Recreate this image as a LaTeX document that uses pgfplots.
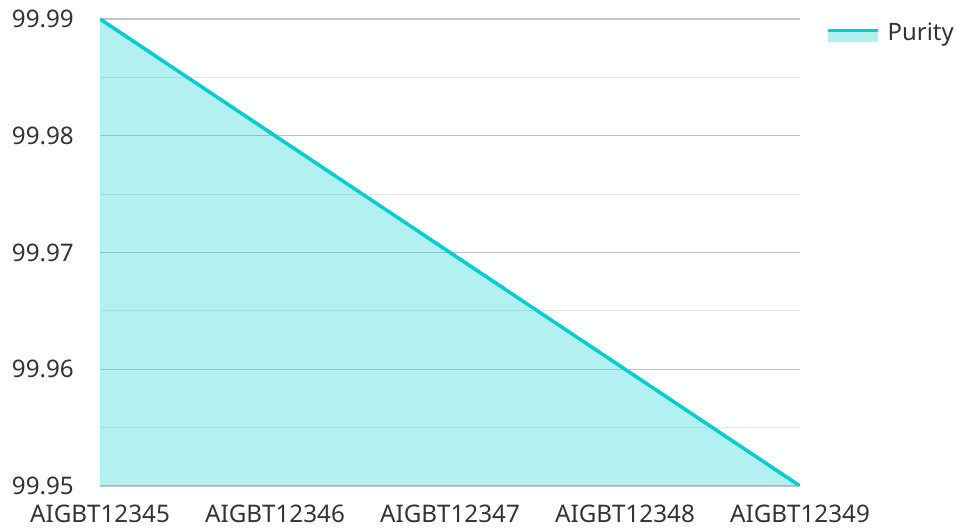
\documentclass[border=0pt]{standalone}
\usepackage{fontspec}
\setmainfont{Noto Sans}
\usepackage{pgfplots}
\pgfplotsset{compat=1.18}
\definecolor{turq}{RGB}{0,206,209}
\definecolor{fillturq}{RGB}{178,240,240}
\definecolor{txt}{RGB}{51,51,51}
\definecolor{majgrid}{RGB}{195,195,195}
\definecolor{mingrid}{RGB}{228,228,228}
\begin{document}
\begin{tikzpicture}
\path[use as bounding box] (0,0) rectangle (956bp,528bp);
\begin{axis}[
  at={(100bp,42bp)}, anchor=south west,
  scale only axis, width=700bp, height=467bp,
  xmin=0, xmax=4, ymin=99.95, ymax=99.99,
  xtick={0,1,2,3,4},
  xticklabels={AIGBT12345,AIGBT12346,AIGBT12347,AIGBT12348,AIGBT12349},
  ytick={99.95,99.96,99.97,99.98,99.99},
  minor ytick={99.955,99.965,99.975,99.985},
  ymajorgrids, yminorgrids,
  major grid style={majgrid, line width=1.2bp},
  minor grid style={mingrid, line width=1.2bp},
  axis line style={draw=none},
  tick style={draw=none},
  font=\fontsize{24.3}{29}\selectfont,
  /pgf/number format/assume math mode=true,
  yticklabel={\pgfmathprintnumber[fixed,precision=2,zerofill]{\tick}},
  yticklabel style={anchor=east, inner sep=0pt, xshift=-26bp, text=txt},
  xticklabel style={anchor=north, inner sep=0pt, yshift=-18.5bp, text=txt},
  legend style={at={(1.0,1.0)}, anchor=north west, xshift=26bp, yshift=-2bp, draw=none, fill=none,
    font=\fontsize{24}{29}\selectfont, text=txt, inner sep=0pt,
    /tikz/every even column/.append style={column sep=0pt}},
  legend cell align=left,
  legend image code/.code={
    \path[fill=fillturq, draw=none, fill opacity=1] (0bp,-9bp) rectangle (50bp,2bp);
    \draw[turq, line width=3.5bp, fill=none] (0bp,2bp) -- (50bp,2bp);
  },
  legend style={/tikz/every odd column/.append style={column sep=6bp}},
]
\addplot[draw=none, fill=turq, fill opacity=0.3, forget plot] coordinates {
  (0,99.99) (1,99.98) (2,99.97) (3,99.96) (4,99.95)
} \closedcycle;
\addplot[turq, line width=3.5bp] coordinates {
  (0,99.99) (1,99.98) (2,99.97) (3,99.96) (4,99.95)
};
\addlegendentry{Purity}
\end{axis}
\end{tikzpicture}
\end{document}
